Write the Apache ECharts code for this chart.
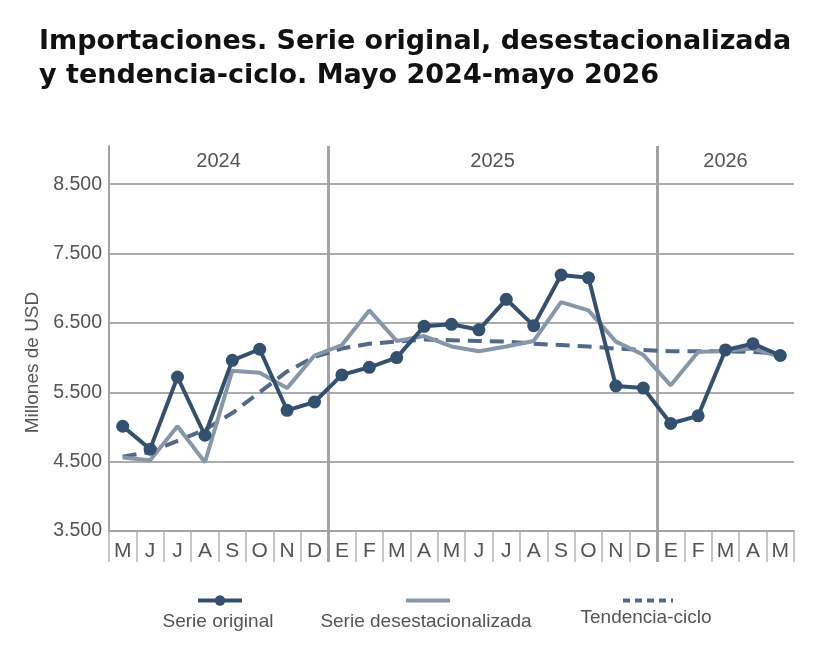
<!DOCTYPE html>
<html lang="es">
<head>
    <meta charset="UTF-8" />
    <title>Importaciones</title>
    <script src="https://cdn.jsdelivr.net/npm/echarts@6.0.0/dist/echarts.min.js"></script>
    <style>
        html, body { margin: 0; padding: 0; background: #fff; }
        #chart { width: 825px; height: 664px; }
    </style>
</head>
<body>
    <div id="chart"></div>
    <script>
        // meses de mayo 2024 a mayo 2026
        var months = ["M", "J", "J", "A", "S", "O", "N", "D",
            "E", "F", "M", "A", "M", "J", "J", "A", "S", "O", "N", "D",
            "E", "F", "M", "A", "M"];
        var years = ["2024", "2025", "2026"];
        var monthsPerYear = [8, 12, 5];

        // millones de USD
        var original = [5010, 4680, 5720, 4880, 5960, 6120, 5240, 5360,
            5750, 5860, 6000, 6450, 6480, 6400, 6840, 6460, 7190, 7150, 5590, 5560,
            5050, 5160, 6110, 6200, 6030];
        var desest = [4560, 4520, 5010, 4490, 5810, 5780, 5560, 6030,
            6180, 6680, 6240, 6310, 6160, 6090, 6160, 6240, 6800, 6680, 6230, 6040,
            5600, 6080, 6100, 6130, 6010];
        var tendencia = [4570, 4640, 4800, 4960, 5200, 5500, 5800, 6010,
            6130, 6200, 6230, 6260, 6250, 6240, 6230, 6200, 6180, 6160, 6130, 6110,
            6090, 6090, 6090, 6080, 6060];

        var yTicks = [3500, 4500, 5500, 6500, 7500, 8500];

        var names = ["Serie original", "Serie desestacionalizada", "Tendencia-ciclo"];
        var colors = ["#34506f", "#8797a8", "#52698a"];

        // bordes entre años y etiquetas de año centradas en su tramo
        var yearStarts = [];
        var headerLabels = [];
        var boundaries = [];
        var acc = 0;
        for (var k = 0; k <= months.length * 2; k++) headerLabels.push("");
        for (var b = 0; b <= months.length; b++) boundaries.push("");
        years.forEach(function (y, i) {
            if (i > 0) yearStarts.push(acc);
            headerLabels[acc * 2 + monthsPerYear[i]] = y;
            acc += monthsPerYear[i];
        });
        function isYearStart(idx) { return yearStarts.indexOf(idx) >= 0; }

        var legendPos = [
            { left: 196, width: 44, textY: 622 },
            { left: 404, width: 44, textY: 622 },
            { left: 621, width: 50, textY: 618 }
        ];

        var txt = "#555555";
        var gridCol = "#ababab";
        var sepCol = "#a3a3a3";

        var myChart = echarts.init(document.getElementById("chart"));

        var option = {
            animation: false,
            title: {
                text: "Importaciones. Serie original, desestacionalizada\ny tendencia-ciclo. Mayo 2024-mayo 2026",
                left: 34,
                top: 20,
                textStyle: {
                    fontFamily: "DejaVu Sans",
                    fontWeight: "bold",
                    fontSize: 27,
                    lineHeight: 34,
                    color: "#111111"
                }
            },
            grid: { left: 109, right: 31, top: 146, bottom: 133 },
            legend: names.map(function (n, i) {
                return {
                    data: [n],
                    left: legendPos[i].left,
                    top: 594,
                    padding: 0,
                    itemWidth: legendPos[i].width,
                    itemHeight: 13,
                    selectedMode: false,
                    formatter: function () { return ""; },
                    itemStyle: i === 0 ? {} : { opacity: 0 },
                    lineStyle: i === 2 ? { width: 4, type: [7, 5] } : { width: 4 }
                };
            }),
            graphic: names.map(function (n, i) {
                return {
                    type: "text",
                    x: legendPos[i].left + legendPos[i].width / 2,
                    y: legendPos[i].textY,
                    style: {
                        text: n,
                        fill: txt,
                        font: '19px "Liberation Sans", Arial, sans-serif',
                        textAlign: "center",
                        textVerticalAlign: "middle"
                    }
                };
            }),
            xAxis: [
                {
                    type: "category",
                    position: "bottom",
                    data: months,
                    boundaryGap: true,
                    axisLine: { lineStyle: { color: sepCol, width: 2 } },
                    axisTick: {
                        show: true, interval: 0, length: 31,
                        lineStyle: { color: "#b3b3b3", width: 1.5 }
                    },
                    axisLabel: {
                        interval: 0, margin: 10, fontSize: 21, color: txt,
                        fontFamily: "'Liberation Sans Narrow', 'Liberation Sans', Arial, sans-serif"
                    },
                    splitLine: { show: false }
                },
                {
                    // separadores de año (líneas verticales gruesas)
                    type: "category",
                    position: "bottom",
                    data: boundaries,
                    boundaryGap: false,
                    axisLine: { show: false },
                    axisTick: {
                        show: true, length: 31, interval: isYearStart,
                        lineStyle: { color: sepCol, width: 3 }
                    },
                    axisLabel: { show: false },
                    splitLine: {
                        show: true, interval: isYearStart,
                        lineStyle: { color: sepCol, width: 3 }
                    }
                },
                {
                    type: "category",
                    position: "top",
                    data: headerLabels,
                    boundaryGap: false,
                    axisLine: { show: false },
                    axisTick: { show: false },
                    axisLabel: {
                        inside: true, interval: 0, margin: 5, fontSize: 20, color: txt,
                        fontFamily: "'Liberation Sans', Arial, sans-serif"
                    },
                    splitLine: { show: false }
                }
            ],
            yAxis: {
                type: "value",
                min: yTicks[0],
                max: 9050,
                interval: 1000,
                name: "Millones de USD",
                nameLocation: "middle",
                nameRotate: 90,
                nameGap: 61,
                nameTextStyle: {
                    fontSize: 19, color: txt,
                    fontFamily: "'Liberation Sans', Arial, sans-serif",
                    padding: [0, 48, 0, 0]
                },
                axisLine: { show: true, lineStyle: { color: sepCol, width: 2 } },
                axisTick: { show: false },
                axisLabel: {
                    margin: 7, fontSize: 19.5, color: txt,
                    fontFamily: "'Liberation Sans', Arial, sans-serif",
                    formatter: function (v) {
                        if (yTicks.indexOf(v) < 0) return "";
                        return String(v).replace(/\B(?=(\d{3})+$)/g, ".");
                    }
                },
                splitLine: {
                    show: true, showMaxLine: false,
                    lineStyle: { color: gridCol, width: 2 }
                }
            },
            series: [
                {
                    name: names[2],
                    type: "line",
                    data: tendencia,
                    symbol: "none",
                    z: 2,
                    lineStyle: { color: colors[2], width: 4, type: [14, 8] },
                    itemStyle: { color: colors[2] }
                },
                {
                    name: names[1],
                    type: "line",
                    data: desest,
                    symbol: "none",
                    z: 3,
                    lineStyle: { color: colors[1], width: 4 },
                    itemStyle: { color: colors[1] }
                },
                {
                    name: names[0],
                    type: "line",
                    data: original,
                    symbol: "circle",
                    symbolSize: 13,
                    z: 4,
                    lineStyle: { color: colors[0], width: 4 },
                    itemStyle: { color: colors[0] }
                }
            ]
        };

        myChart.setOption(option);
    </script>
</body>
</html>
